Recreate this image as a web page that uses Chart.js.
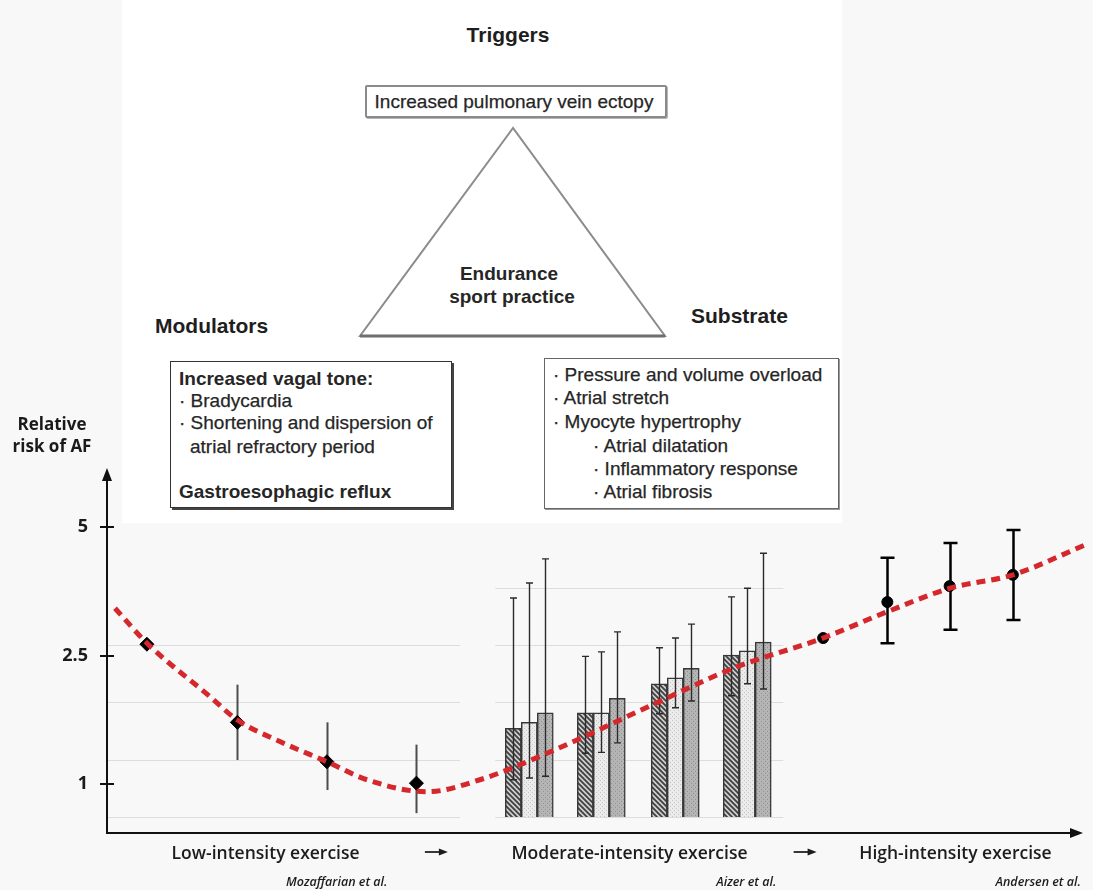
<!DOCTYPE html>
<html>
<head>
<meta charset="utf-8">
<script src="https://cdn.jsdelivr.net/npm/chart.js@4.4.1/dist/chart.umd.min.js"></script>
<style>
  html, body { margin: 0; padding: 0; background: #f8f8f8; }
  #wrap { position: relative; width: 1093px; height: 890px; overflow: hidden; }
  #chart { position: absolute; left: 0; top: 0; }
  #panel { position: absolute; left: 122px; top: 0; width: 720px; height: 523px; background: #ffffff; }
  .tx { position: absolute; white-space: nowrap; font-family: 'Liberation Sans', Arial, sans-serif;
        font-size: 19px; line-height: 22px; height: 22px; color: #262626; -webkit-text-stroke: 0.25px #262626; }
  .c { width: 400px; text-align: center; }
  .b { font-weight: bold; -webkit-text-stroke: 0; }
  .hd { font-weight: bold; font-size: 21px; color: #1e1e1e; -webkit-text-stroke: 0; }
  .box { position: absolute; box-sizing: border-box; background: #fff; }
  #trig { left: 365px; top: 85px; width: 302px; height: 33px; border: 2px solid #8a8a8a; border-radius: 2px;
          box-shadow: 1px 1px 0 #b5b5b5; }
  #mod { left: 170px; top: 361px; width: 282px; height: 147px; border: 1.5px solid #333;
         box-shadow: 2px 2px 0 #444; }
  #sub { left: 544px; top: 358px; width: 295px; height: 151px; border: 1.5px solid #666;
         box-shadow: 1px 1px 0 #999; }
  svg { position: absolute; left: 0; top: 0; }
</style>
</head>
<body>
<div id="wrap">
  <canvas id="chart" width="1093" height="890"></canvas>
  <div id="panel"></div>
  <svg width="1093" height="523">
    <polygon points="513,128 360,336 665,336" fill="none" stroke="#8c8c8c" stroke-width="2"/>
    <line x1="360" y1="336" x2="665" y2="336" stroke="#6e6e6e" stroke-width="3"/>
  </svg>
  <div class="tx hd c" style="left:308px; top:24px;">Triggers</div>
  <div class="box" id="trig"></div>
  <div class="tx c" style="left:314px; top:91px;">Increased pulmonary vein ectopy</div>
  <div class="tx b c" style="left:309px; top:263px;">Endurance</div>
  <div class="tx b c" style="left:312px; top:286px;">sport practice</div>
  <div class="tx hd" style="left:155px; top:315px;">Modulators</div>
  <div class="tx hd" style="left:691px; top:305px;">Substrate</div>

  <div class="box" id="mod"></div>
  <div class="tx b" style="left:179px; top:368px;">Increased vagal tone:</div>
  <div class="tx" style="left:179px; top:390px;">· Bradycardia</div>
  <div class="tx" style="left:179px; top:412px;">· Shortening and dispersion of</div>
  <div class="tx" style="left:190px; top:436px;">atrial refractory period</div>
  <div class="tx b" style="left:179px; top:481px;">Gastroesophagic reflux</div>

  <div class="box" id="sub"></div>
  <div class="tx" style="left:553px; top:364px;">· Pressure and volume overload</div>
  <div class="tx" style="left:553px; top:387px;">· Atrial stretch</div>
  <div class="tx" style="left:553px; top:411px;">· Myocyte hypertrophy</div>
  <div class="tx" style="left:593px; top:435px;">· Atrial dilatation</div>
  <div class="tx" style="left:593px; top:458px;">· Inflammatory response</div>
  <div class="tx" style="left:593px; top:481px;">· Atrial fibrosis</div>
</div>

<script>
// ---- Relative risk axis: ticks are evenly spaced at 1, 2.5 and 5 ----
const yTickRisk = [1, 2.5, 5];
const yTickLabels = ['1', '2.5', '5'];
const yTitleLines = ['Relative', 'risk of AF'];

// Exercise intensity runs 0..100 along the horizontal axis
const phaseLabels = ['Low-intensity exercise', 'Moderate-intensity exercise', 'High-intensity exercise'];
const phaseAt = [16.3, 53.7, 87.2];
const phaseArrowAt = [33.8, 71.7];
const studyLabels = ['Mozaffarian et al.', 'Aizer et al.', 'Andersen et al.'];
const studyAt = [23.6, 65.7, 95.7];

// Mozaffarian et al. (low intensity)
const lowX = [4.1, 13.4, 22.6, 31.8];
const lowRisk = [2.72, 1.72, 1.26, 1.01];
const lowCiLow = [null, 1.28, 0.93, 0.66];
const lowCiHigh = [null, 2.16, 1.72, 1.46];

// Aizer et al. (moderate intensity), three bars per group
const midGroupX = [43.4, 50.8, 58.4, 65.8];
const midRiskA = [1.65, 1.83, 2.17, 2.51];
const midRiskB = [1.72, 1.83, 2.24, 2.59];
const midRiskC = [1.83, 2.00, 2.35, 2.76];
const midCiLowA = [1.05, 1.36, 1.82, 2.03];
const midCiHighA = [3.62, 2.49, 2.65, 3.64];
const midCiLowB = [1.07, 1.37, 1.89, 2.17];
const midCiHighB = [3.91, 2.57, 2.84, 3.81];
const midCiLowC = [1.09, 1.48, 1.97, 2.11];
const midCiHighC = [4.38, 2.96, 3.11, 4.49];
const midBaseRisk = 0.615;

// Andersen et al. (high intensity)
const highX = [73.6, 80.2, 86.6, 93.1];
const highRisk = [2.84, 3.54, 3.85, 4.07];
const highCiLow = [null, 2.74, 3.00, 3.19];
const highCiHigh = [null, 4.40, 4.69, 4.94];

// U-shaped trend across the three intensity levels
const trendX = [0.82, 4.11, 10.59, 13.36, 18.09, 22.61, 26.72, 32.89, 38.33, 46.04, 56.53, 64.34, 73.59, 80.16, 86.64, 93.11, 100.51];
const trendRisk = [3.42, 2.74, 2.02, 1.75, 1.48, 1.26, 1.05, 0.91, 1.05, 1.40, 1.95, 2.35, 2.84, 3.35, 3.81, 4.07, 4.65];

// faint reference lines of the underlying study plots
const refLineRisk = [0.615, 1.28, 1.96, 2.70, 3.81];
const refLineLeft = [0, 36.3];
const refLineMid = [39.9, 69.5];

// piecewise-linear placement on the evenly spaced risk axis
function riskToAxis(r) {
  return r <= 2.5 ? (r - 1) / 1.5 : 1 + (r - 2.5) / 2.5;
}

function makePattern(kind) {
  const c = document.createElement('canvas');
  const s = kind === 'hatch' ? 5 : 4;
  c.width = s; c.height = s;
  const g = c.getContext('2d');
  if (kind === 'hatch') {
    g.fillStyle = '#cfcfcf'; g.fillRect(0, 0, s, s);
    g.strokeStyle = '#404040'; g.lineWidth = 1.8;
    g.beginPath();
    g.moveTo(-1, -1); g.lineTo(s + 1, s + 1);
    g.moveTo(-1, s - 1); g.lineTo(1, s + 1);
    g.moveTo(s - 1, -1); g.lineTo(s + 1, 1);
    g.stroke();
  } else if (kind === 'light') {
    g.fillStyle = '#ebebeb'; g.fillRect(0, 0, s, s);
    g.fillStyle = '#c4c4c4'; g.fillRect(0, 0, 1, 1); g.fillRect(2, 2, 1, 1);
  } else {
    g.fillStyle = '#b5b5b5'; g.fillRect(0, 0, s, s);
    g.fillStyle = '#8f8f8f'; g.fillRect(1, 1, 1, 1); g.fillRect(3, 3, 1, 1);
  }
  return g.createPattern(c, 'repeat');
}

const toPoints = (xs, rs) => xs.map((x, i) => ({ x: x, y: riskToAxis(rs[i]) }));

const barSets = [
  { risk: midRiskA, lo: midCiLowA, hi: midCiHighA, fill: makePattern('hatch') },
  { risk: midRiskB, lo: midCiLowB, hi: midCiHighB, fill: makePattern('light') },
  { risk: midRiskC, lo: midCiLowC, hi: midCiHighC, fill: makePattern('mid') }
];

const datasets = [
  {
    type: 'line', label: 'trend', data: toPoints(trendX, trendRisk),
    borderColor: '#d5282d', borderWidth: 5, borderDash: [9, 6], borderCapStyle: 'butt',
    pointRadius: 0, fill: false, cubicInterpolationMode: 'monotone', clip: false, order: 0
  },
  {
    type: 'line', label: 'Mozaffarian', data: toPoints(lowX, lowRisk), showLine: false,
    pointStyle: 'rectRot', pointRadius: 7, pointBackgroundColor: '#000', pointBorderColor: '#000',
    order: 1, ci: [lowCiLow, lowCiHigh], ciColor: '#4d4d4d', ciWidth: 2, cap: 0
  },
  {
    type: 'line', label: 'Andersen', data: toPoints(highX, highRisk), showLine: false,
    pointStyle: 'circle', pointRadius: 5.5, pointBackgroundColor: '#000', pointBorderColor: '#000',
    order: 1, ci: [highCiLow, highCiHigh], ciColor: '#000', ciWidth: 2.5, cap: 7
  }
].concat(barSets.map((b, k) => ({
  type: 'bar', label: 'Aizer ' + (k + 1), data: toPoints(midGroupX, b.risk),
  base: riskToAxis(midBaseRisk), barThickness: 16, backgroundColor: b.fill,
  borderColor: '#383838', borderWidth: 1.5, borderSkipped: 'bottom', order: 2,
  ci: [b.lo, b.hi], ciColor: '#2a2a2a', ciWidth: 1.4, cap: 3.5
})));

function drawCi(chart, ds, meta) {
  const ctx = chart.ctx, ys = chart.scales.y;
  const [lo, hi] = ds.ci;
  ctx.save();
  ctx.strokeStyle = ds.ciColor; ctx.lineWidth = ds.ciWidth; ctx.lineCap = 'butt';
  meta.data.forEach((el, i) => {
    if (lo[i] == null || hi[i] == null) return;
    const x = Math.round(el.x) + 0.5;
    const y1 = ys.getPixelForValue(riskToAxis(lo[i]));
    const y2 = ys.getPixelForValue(riskToAxis(hi[i]));
    ctx.beginPath();
    ctx.moveTo(x, y1); ctx.lineTo(x, y2);
    if (ds.cap) {
      ctx.moveTo(x - ds.cap, y1); ctx.lineTo(x + ds.cap, y1);
      ctx.moveTo(x - ds.cap, y2); ctx.lineTo(x + ds.cap, y2);
    }
    ctx.stroke();
  });
  ctx.restore();
}

const decor = {
  id: 'decor',
  beforeDatasetsDraw(chart) {
    const ctx = chart.ctx, xs = chart.scales.x, ys = chart.scales.y;
    ctx.save();
    ctx.strokeStyle = '#dddddd'; ctx.lineWidth = 1;
    refLineRisk.forEach((r, i) => {
      const y = Math.round(ys.getPixelForValue(riskToAxis(r))) + 0.5;
      ctx.beginPath();
      if (i < 4) { ctx.moveTo(xs.getPixelForValue(refLineLeft[0]), y); ctx.lineTo(xs.getPixelForValue(refLineLeft[1]), y); }
      ctx.moveTo(xs.getPixelForValue(refLineMid[0]), y); ctx.lineTo(xs.getPixelForValue(refLineMid[1]), y);
      ctx.stroke();
    });
    ctx.restore();
  },
  beforeDatasetDraw(chart, args) {
    const ds = chart.data.datasets[args.index];
    if (ds.type === 'line' && ds.ci) drawCi(chart, ds, args.meta);
  },
  afterDatasetDraw(chart, args) {
    const ds = chart.data.datasets[args.index];
    if (ds.type === 'bar' && ds.ci) drawCi(chart, ds, args.meta);
  },
  afterDatasetsDraw(chart) {
    const ctx = chart.ctx, xs = chart.scales.x, ys = chart.scales.y, a = chart.chartArea;
    ctx.save();
    ctx.strokeStyle = '#111'; ctx.fillStyle = '#111'; ctx.lineWidth = 2;
    // axes with arrow heads
    ctx.beginPath();
    ctx.moveTo(a.left, a.bottom + 1); ctx.lineTo(a.left, a.top + 6);
    ctx.moveTo(a.left - 1, a.bottom); ctx.lineTo(a.right - 6, a.bottom);
    ctx.stroke();
    ctx.beginPath();
    ctx.moveTo(a.left, a.top - 4); ctx.lineTo(a.left - 5, a.top + 9); ctx.lineTo(a.left + 5, a.top + 9); ctx.closePath();
    ctx.moveTo(a.right + 3, a.bottom); ctx.lineTo(a.right - 10, a.bottom - 5); ctx.lineTo(a.right - 10, a.bottom + 5); ctx.closePath();
    ctx.fill();
    // tick marks crossing the vertical axis
    ctx.beginPath();
    yTickRisk.forEach(r => {
      const y = Math.round(ys.getPixelForValue(riskToAxis(r)));
      ctx.moveTo(a.left - 7, y); ctx.lineTo(a.left + 7, y);
    });
    ctx.stroke();
    // axis title
    ctx.fillStyle = '#1a1a1a';
    ctx.font = "bold 17px 'Open Sans', sans-serif";
    ctx.textAlign = 'center'; ctx.textBaseline = 'middle';
    yTitleLines.forEach((t, i) => ctx.fillText(t, 52, a.top - 47 + i * 22));
    // intensity phases
    ctx.font = "600 17.5px 'Open Sans', sans-serif";
    ctx.fillStyle = '#1c1c1c';
    phaseLabels.forEach((t, i) => ctx.fillText(t, xs.getPixelForValue(phaseAt[i]), a.bottom + 21));
    ctx.lineWidth = 1.8; ctx.strokeStyle = '#222';
    phaseArrowAt.forEach(v => {
      const cx = xs.getPixelForValue(v), y = a.bottom + 19;
      ctx.beginPath(); ctx.moveTo(cx - 11, y); ctx.lineTo(cx + 5, y); ctx.stroke();
      ctx.beginPath(); ctx.moveTo(cx + 12, y); ctx.lineTo(cx + 3, y - 3.5); ctx.lineTo(cx + 3, y + 3.5); ctx.closePath(); ctx.fill();
    });
    ctx.font = "italic 600 12.5px 'Open Sans', sans-serif";
    studyLabels.forEach((t, i) => ctx.fillText(t, xs.getPixelForValue(studyAt[i]), a.bottom + 49));
    ctx.restore();
  }
};

new Chart(document.getElementById('chart'), {
  type: 'bar',
  data: { datasets: datasets },
  options: {
    responsive: false,
    animation: false,
    layout: { padding: { left: 0, top: 472, right: 13, bottom: 57 } },
    plugins: { legend: { display: false }, tooltip: { enabled: false } },
    scales: {
      x: { type: 'linear', min: 0, max: 100, offset: false, display: false },
      y: {
        type: 'linear', min: -0.381, max: 2.428,
        grid: { display: false, drawTicks: false },
        border: { display: false },
        afterBuildTicks: s => { s.ticks = yTickRisk.map(r => ({ value: riskToAxis(r) })); },
        afterFit: s => { s.width = 107; },
        ticks: {
          callback: (v, i) => yTickLabels[i],
          padding: 19, color: '#1a1a1a',
          font: { family: "'Open Sans', sans-serif", weight: 'bold', size: 18 }
        }
      }
    }
  },
  plugins: [decor]
});
</script>
</body>
</html>
